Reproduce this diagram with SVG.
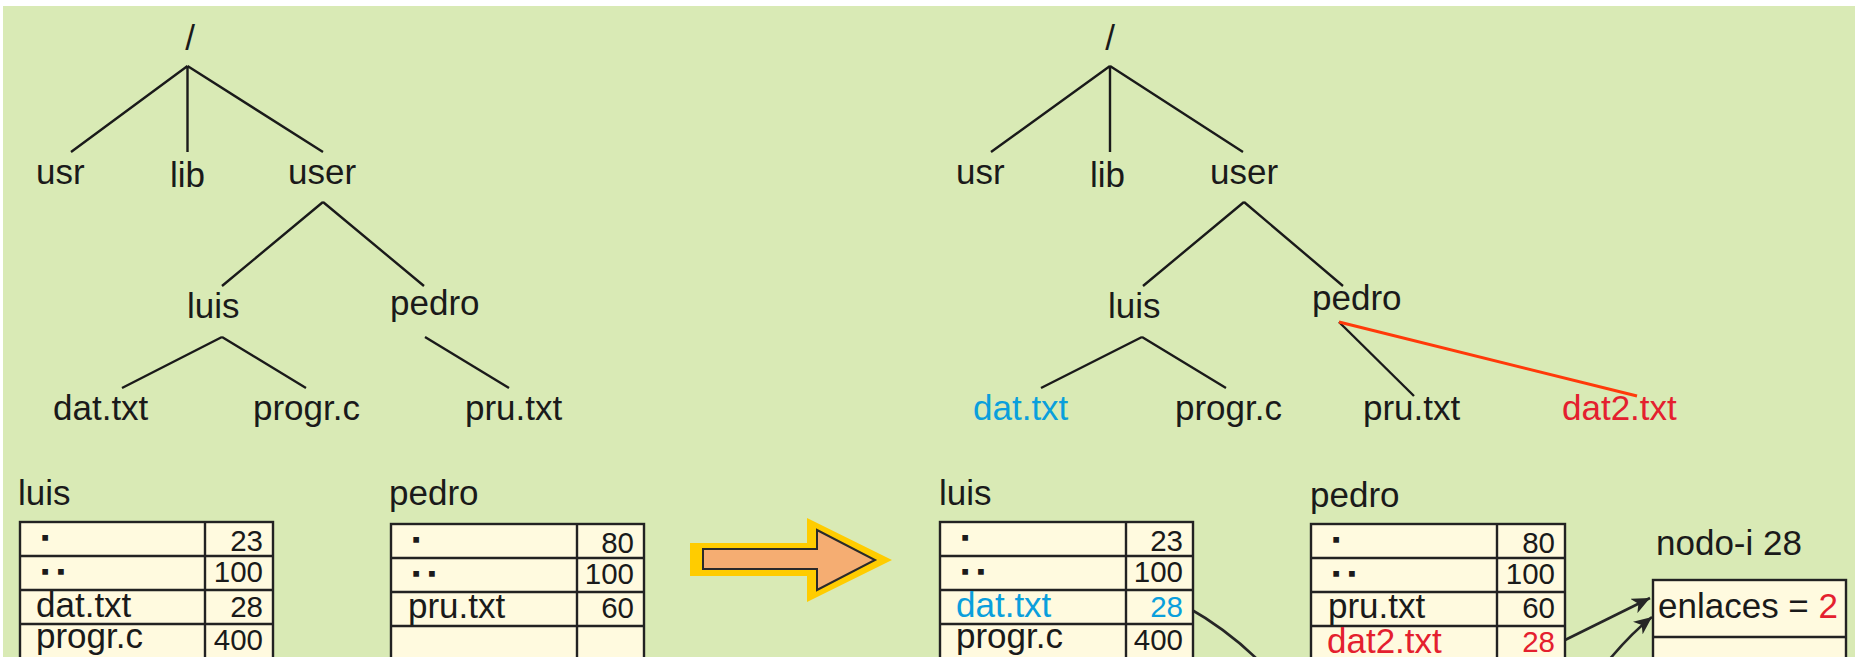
<svg xmlns="http://www.w3.org/2000/svg" width="1855" height="657" viewBox="0 0 1855 657">
<defs>
<style>
text{font-family:"Liberation Sans",Arial,sans-serif;fill:#1a1a1a}
.t{font-size:35px}
.n{font-size:29.5px;text-anchor:end}
.d{font-size:30px;font-weight:bold;stroke:#1a1a1a;stroke-width:1.4;letter-spacing:7.5px}
.blue{fill:#0a9fdc}
.red{fill:#e4202e}
.tl{stroke:#1a1a1a;stroke-width:2.4;fill:none}
.tb{fill:#fffadf;stroke:#222;stroke-width:2.4}
.tr{stroke:#222;stroke-width:2.4}
.ar{stroke:#262626;stroke-width:2.6;fill:none}
</style>
<marker id="ah" markerUnits="userSpaceOnUse" markerWidth="20" markerHeight="16" refX="18" refY="8" orient="auto">
<path d="M0,0 L18,8 L0,16 L5,8 Z" fill="#262626"/>
</marker>
</defs>
<rect x="0" y="0" width="1855" height="657" fill="#ffffff"/>
<rect x="3" y="6" width="1852" height="651" fill="#d9eab5"/>

<g id="connectors">
<path class="tl" d="M187.5,66 L71,152 M187.5,66 L187.5,152 M187.5,66 L323,152"/>
<path class="tl" d="M323,202 L222,286 M323,202 L424,286"/>
<path class="tl" d="M222,337 L122,388 M222,337 L306,388"/>
<path class="tl" d="M425,337 L509,388"/>
<path class="tl" d="M1110,66 L991,152 M1110,66 L1110,152 M1110,66 L1243,152"/>
<path class="tl" d="M1244,202 L1143,286 M1244,202 L1343,286"/>
<path class="tl" d="M1142,337 L1041,388 M1142,337 L1226,388"/>
<path class="tl" d="M1339,322 L1414,396"/>
<path d="M1339,322 L1637,396" stroke="#ff3a0a" stroke-width="3" fill="none"/>
<path class="ar" d="M1187,607 Q1228,630 1260,662"/>
<path class="ar" d="M1561,642 L1650,598" marker-end="url(#ah)"/>
<path class="ar" d="M1604,666 Q1630,634 1652,617" marker-end="url(#ah)"/>
</g>

<g id="tree-left">
<text class="t" x="190" y="50" text-anchor="middle">/</text>
<text class="t" x="36" y="184">usr</text>
<text class="t" x="170" y="187">lib</text>
<text class="t" x="288" y="184">user</text>
<text class="t" x="187" y="318">luis</text>
<text class="t" x="390" y="315">pedro</text>
<text class="t" x="53" y="420">dat.txt</text>
<text class="t" x="253" y="420">progr.c</text>
<text class="t" x="465" y="420">pru.txt</text>
</g>

<g id="tree-right">
<text class="t" x="1110" y="50" text-anchor="middle">/</text>
<text class="t" x="956" y="184">usr</text>
<text class="t" x="1090" y="187">lib</text>
<text class="t" x="1210" y="184">user</text>
<text class="t" x="1108" y="318">luis</text>
<text class="t" x="1312" y="310">pedro</text>
<text class="t blue" x="973" y="420">dat.txt</text>
<text class="t" x="1175" y="420">progr.c</text>
<text class="t" x="1363" y="420">pru.txt</text>
<text class="t red" x="1562" y="420">dat2.txt</text>
</g>

<g id="table-luis-left">
<text class="t" x="18" y="505">luis</text>
<rect class="tb" x="20" y="522" width="253" height="160"/>
<path class="tr" d="M205,522 V682 M20,556 H273 M20,590 H273 M20,624 H273"/>
<text class="d" x="41" y="540">.</text>
<text class="d" x="41" y="574">..</text>
<text class="t" x="36" y="617">dat.txt</text>
<text class="t" x="36" y="648">progr.c</text>
<text class="n" x="263" y="551">23</text>
<text class="n" x="263" y="582">100</text>
<text class="n" x="263" y="617">28</text>
<text class="n" x="263" y="650">400</text>
</g>

<g id="table-pedro-left">
<text class="t" x="389" y="505">pedro</text>
<rect class="tb" x="391" y="524" width="253" height="160"/>
<path class="tr" d="M577,524 V684 M391,558 H644 M391,592 H644 M391,626 H644"/>
<text class="d" x="412" y="542">.</text>
<text class="d" x="412" y="576">..</text>
<text class="t" x="408" y="618">pru.txt</text>
<text class="n" x="634" y="553">80</text>
<text class="n" x="634" y="584">100</text>
<text class="n" x="634" y="618">60</text>
</g>

<g id="big-arrow">
<polygon points="690,543 807,543 807,518 892,560 807,602 807,576 690,576" fill="#ffcc00"/>
<polygon points="703,549 817,549 817,530 875,560 817,590 817,569 703,569" fill="#f5ad72" stroke="#2a2a2a" stroke-width="2"/>
</g>

<g id="table-luis-right">
<text class="t" x="939" y="505">luis</text>
<rect class="tb" x="940" y="522" width="253" height="160"/>
<path class="tr" d="M1126,522 V682 M940,556 H1193 M940,590 H1193 M940,624 H1193"/>
<text class="d" x="961" y="540">.</text>
<text class="d" x="961" y="574">..</text>
<text class="t blue" x="956" y="617">dat.txt</text>
<text class="t" x="956" y="648">progr.c</text>
<text class="n" x="1183" y="551">23</text>
<text class="n" x="1183" y="582">100</text>
<text class="n blue" x="1183" y="617">28</text>
<text class="n" x="1183" y="650">400</text>
</g>

<g id="table-pedro-right">
<text class="t" x="1310" y="507">pedro</text>
<rect class="tb" x="1311" y="524" width="254" height="160"/>
<path class="tr" d="M1497,524 V684 M1311,558 H1565 M1311,592 H1565 M1311,626 H1565"/>
<text class="d" x="1332" y="542">.</text>
<text class="d" x="1332" y="576">..</text>
<text class="t" x="1328" y="618">pru.txt</text>
<text class="t red" x="1327" y="653">dat2.txt</text>
<text class="n" x="1555" y="553">80</text>
<text class="n" x="1555" y="584">100</text>
<text class="n" x="1555" y="618">60</text>
<text class="n red" x="1555" y="652">28</text>
</g>

<g id="inode-28">
<text class="t" x="1656" y="555">nodo-i 28</text>
<rect class="tb" x="1653" y="580" width="193" height="110"/>
<path class="tr" d="M1653,637 H1846"/>
<text class="t" x="1658" y="618">enlaces = <tspan class="red">2</tspan></text>
</g>
</svg>
